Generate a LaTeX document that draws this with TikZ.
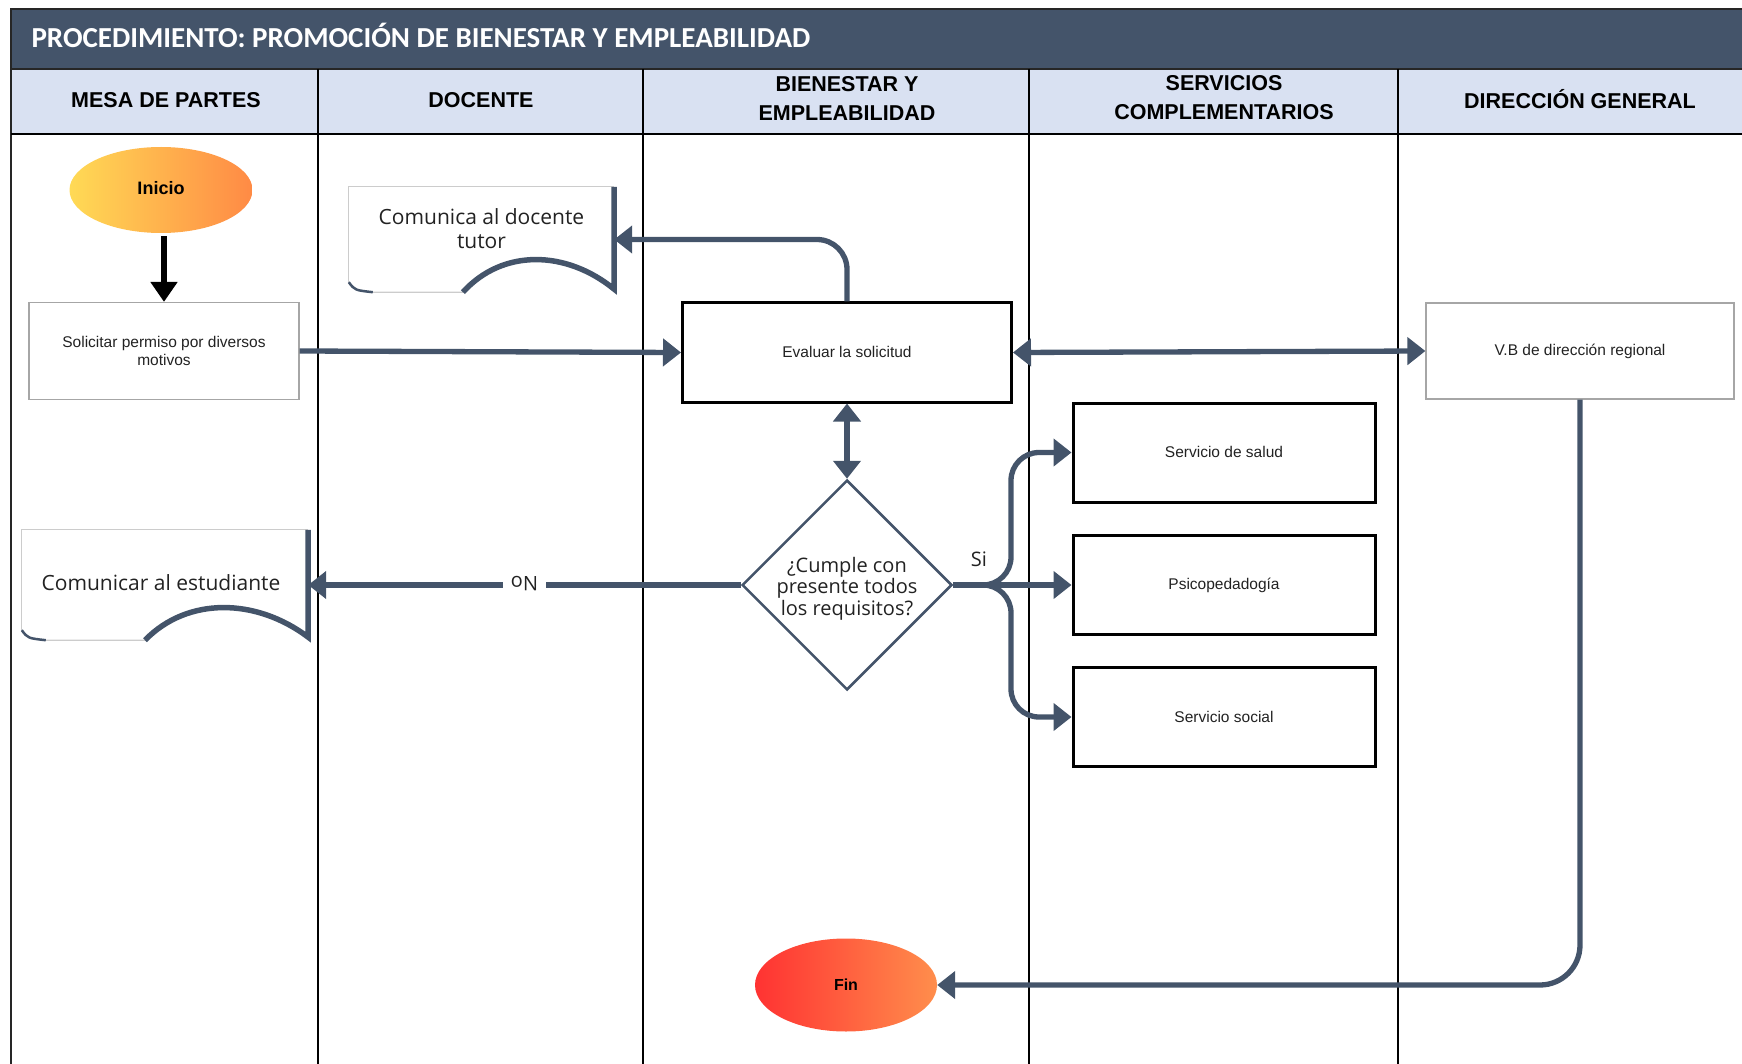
\documentclass[tikz,border=0pt]{standalone}
\usepackage{fontspec}
\setmainfont{Liberation Sans}
\newfontfamily\opensans{Open Sans}
\newfontfamily\carlito{Carlito}
\usetikzlibrary{arrows.meta,shapes.geometric,calc}
\definecolor{slate}{HTML}{44546A}
\definecolor{headfill}{HTML}{D9E1F2}
\definecolor{iniL}{HTML}{FFDA55}
\definecolor{iniR}{HTML}{FF8A45}
\definecolor{finL}{HTML}{FF3232}
\definecolor{finR}{HTML}{FF8E4C}
\definecolor{txt}{HTML}{222222}

% outline of a document symbol: thin left/top, dark wave and right edge
\newcommand\docshape[1]{%
  \draw[docthin] ($(#1.south west)+(0,-10)$) -- (#1.north west) -- (#1.north east);
  \draw[docthin] ($(#1.south west)+(24,0)$) -- ($(#1.south west)!0.43!(#1.south east)$);
  \draw[doccorner] ($(#1.south west)+(0,-10)$) .. controls ($(#1.south west)+(6,-2)$) .. ($(#1.south west)+(24,0)$);
  \draw[docthick] ($(#1.south west)!0.43!(#1.south east)$)
     .. controls ($(#1.south west)!0.58!(#1.south east)+(0,-44)$) and ($(#1.south west)!0.82!(#1.south east)+(0,-42)$)
     .. ($(#1.south east)+(0,-3)$) -- (#1.north east);
}

\begin{document}
\begin{tikzpicture}[x=1pt,y=-1pt,
  flow/.style={draw=slate, line width=5.3pt, -{Triangle[length=18pt,width=27pt]}},
  dflow/.style={draw=slate, line width=5.3pt, {Triangle[length=18pt,width=27pt]}-{Triangle[length=18pt,width=27pt]}},
  lane/.style={draw=black, line width=1.3pt},
  headtxt/.style={font=\bfseries\fontsize{21.5}{29}\selectfont, align=center, text=black},
  procthin/.style={draw=gray!70, line width=1.2pt, rectangle, inner sep=0, align=center, text=txt, font=\fontsize{15.5}{18}\selectfont},
  procbold/.style={draw=black, line width=3pt, rectangle, inner sep=0, align=center, text=txt, font=\fontsize{15.5}{18}\selectfont},
  docnode/.style={rectangle, inner sep=0, draw=none},
  doctxt/.style={font=\opensans\fontsize{21}{24}\selectfont, align=center, text=txt},
  docthin/.style={draw=gray!40, line width=1.2pt},
  doccorner/.style={draw=slate, line width=2.5pt},
  docthick/.style={draw=slate, line width=5.5pt, line join=miter},
  terminal/.style={ellipse, draw=none, inner sep=0, text=black},
  decision/.style={diamond, aspect=1, draw=slate, line width=2.5pt, inner sep=0,
     minimum width=210pt, minimum height=210pt},
  dectxt/.style={align=center, text=txt, font=\opensans\fontsize{20}{21.5}\selectfont},
  lbl/.style={font=\opensans\fontsize{20}{22}\selectfont, text=txt}
]
\useasboundingbox (0,0) rectangle (1742,1064);

% title bar and lane header row
\fill[slate] (11,9) rectangle (1742,69);
\fill[headfill] (11,69) rectangle (1742,134);
\draw[black!85, line width=2pt] (1742,9) -- (11,9) -- (11,1064);
\draw[black!85, line width=1.5pt] (11,69) -- (1742,69);
\draw[black, line width=2pt] (11,134) -- (1742,134);
\foreach \x in {318,643,1029,1398} \draw[lane] (\x,69) -- (\x,1064);

\node[anchor=west, text=white, font=\carlito\bfseries\fontsize{29}{32}\selectfont] (title) at (28,35)
  {PROCEDIMIENTO: PROMOCIÓN DE BIENESTAR Y EMPLEABILIDAD};
\node[headtxt] (h1) at (166,100) {MESA DE PARTES};
\node[headtxt] (h2) at (481,100) {DOCENTE};
\node[headtxt] (h3) at (847,98) {BIENESTAR Y\\EMPLEABILIDAD};
\node[headtxt] (h4) at (1224,98) {SERVICIOS\\COMPLEMENTARIOS};
\node[headtxt] (h5) at (1580,99) {DIRECCIÓN GENERAL};

% flow nodes
\node[terminal, minimum width=183pt, minimum height=86pt, left color=iniL, right color=iniR,
      font=\bfseries\fontsize{18}{20}\selectfont] (ini) at (161,190) {\raisebox{4pt}{Inicio}};
\node[procthin, minimum width=270pt, minimum height=97pt] (sol) at (164,351)
  {Solicitar permiso por diversos\\motivos};
\node[docnode, minimum width=265pt, minimum height=105pt,
      label={[doctxt, yshift=11pt]center:Comunica al docente\\tutor}] (doc1) at (481.5,239.5) {};
\node[procbold, minimum width=329pt, minimum height=99pt] (eval) at (847,352.5) {\raisebox{2pt}{Evaluar la solicitud}};
\node[procthin, minimum width=308pt, minimum height=96pt] (vb) at (1580,351) {V.B de dirección regional};
\node[decision, label={[dectxt, yshift=-3.5pt]center:¿Cumple con\\presente todos\\los requisitos?}] (dia) at (847,585) {};
\node[docnode, minimum width=286pt, minimum height=110pt,
      label={[doctxt, xshift=-4pt, yshift=2pt]center:Comunicar al estudiante}] (doc2) at (165,585) {};
\node[procbold, minimum width=302pt, minimum height=99pt] (salud) at (1224,452.5) {\raisebox{2pt}{Servicio de salud}};
\node[procbold, minimum width=302pt, minimum height=99pt] (psico) at (1224,585) {\raisebox{2pt}{Psicopedadogía}};
\node[procbold, minimum width=302pt, minimum height=99pt] (social) at (1224,717) {\raisebox{1pt}{Servicio social}};
\node[terminal, minimum width=182pt, minimum height=93pt, left color=finL, right color=finR,
      font=\bfseries\fontsize{16}{18}\selectfont] (fin) at (846,985) {Fin};

\docshape{doc1}
\docshape{doc2}

% connectors
\draw[black, line width=6pt, -{Triangle[length=20pt,width=26pt]}, shorten <=3pt] (sol.north |- ini.south) -- (sol.north);
\draw[flow] (sol.east) -- (eval.west);
\draw[flow, rounded corners=30pt] (eval.north) |- (doc1.east);
\draw[dflow] (eval.east) -- (vb.west);
\draw[dflow] (eval.south) -- (dia.north);
\draw[flow] (dia.west) -- node[fill=white, lbl, inner xsep=8pt, yshift=1pt] {\rotatebox{180}{No}} (doc2.east);
\coordinate (split) at (1011,585);
\draw[flow, rounded corners=28pt] (dia.east) -| (split |- salud.west) -- (salud.west);
\draw[flow] (dia.east) -- (psico.west);
\draw[flow, rounded corners=28pt] (dia.east) -| (split |- social.west) -- (social.west);
\node[lbl] (si) at (979,559) {Si};
\draw[flow, rounded corners=40pt] (vb.south) |- (fin.east);
\end{tikzpicture}
\end{document}
